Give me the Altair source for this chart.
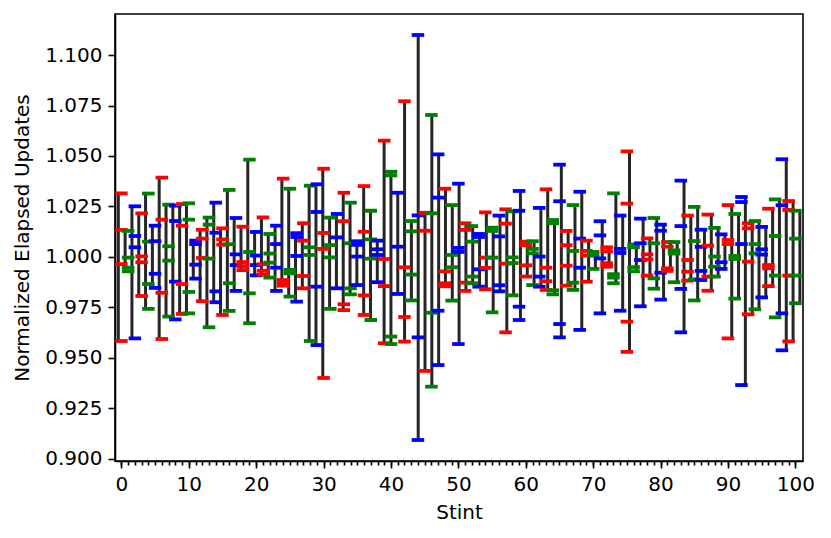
import altair as alt
import pandas as pd

# Normalized elapsed updates per stint (4 replicate readings each; some overlap so only 3 visible)
updates = [
    [1.0315, 1.0134, 0.9965, 0.9584],  # 0
    [1.0129, 0.9997, 0.9947, 0.9929],
    [1.0251, 1.0104, 1.0048, 0.9597],
    [1.0216, 1.0003, 0.9974, 0.9807],
    [1.0314, 1.0076, 0.9866, 0.9743],
    [1.0155, 1.0078, 0.9917, 0.9847],
    [1.0393, 1.0185, 0.9823, 0.9594],
    [1.0259, 1.0053, 0.9982, 0.9705],
    [1.0254, 1.0178, 0.9878, 0.9691],
    [1.0262, 1.0155, 0.9866, 0.9718],
    [1.0266, 1.0185, 0.9827, 0.9721],  # 10
    [1.0081, 1.0064, 0.9962, 0.9893],
    [1.0135, 1.0091, 0.9995, 0.9781],
    [1.0195, 1.0160, 0.9992, 0.9652],
    [1.0269, 1.0120, 0.9830, 0.9776],
    [1.0142, 1.0087, 1.0061, 0.9713],
    [1.0332, 1.0063, 0.9870, 0.9733],
    [1.0193, 1.0013, 0.9960, 0.9832],
    [1.0150, 0.9975, 0.9955, 0.9935],
    [1.0482, 1.0025, 0.9820, 0.9672],
    [1.0124, 1.0007, 0.9960, 0.9909],  # 20
    [1.0196, 0.9964, 0.9932, 0.9913],
    [1.0114, 1.0017, 0.9972, 0.9898],
    [1.0155, 1.0064, 0.9947, 0.9832],
    [1.0388, 0.9886, 0.9871, 0.9858],
    [1.0338, 0.9936, 0.9919, 0.9804],
    [1.0118, 1.0099, 1.0005, 0.9779],
    [1.0167, 1.0081, 0.9906, 0.9845],
    [1.0353, 1.0048, 1.0010, 0.9584],
    [1.0360, 1.0223, 0.9853, 0.9564],
    [1.0437, 1.0119, 1.0040, 0.9401],  # 30
    [1.0195, 1.0059, 0.9998, 0.9743],
    [1.0213, 1.0097, 0.9845],
    [1.0318, 1.0177, 0.9766, 0.9737],
    [1.0269, 1.0068, 0.9845, 0.9815],
    [1.0078, 1.0060, 1.0002, 0.9861],
    [1.0351, 1.0125, 0.9810, 0.9713],
    [1.0229, 1.0087, 0.9992, 0.9688],
    [1.0081, 1.0038, 1.0010, 0.9875],
    [1.0576, 0.9990, 0.9856, 0.9573],
    [1.0422, 1.0404, 0.9606, 0.9569],  # 40
    [1.0318, 1.0051, 0.9817],
    [1.0771, 0.9949, 0.9703, 0.9581],
    [1.0178, 1.0127, 0.9913, 0.9785],
    [1.1099, 1.0206, 0.9602, 0.9094],
    [1.0219, 1.0130, 0.9436],
    [1.0703, 1.0216, 0.9724, 0.9358],
    [1.0508, 1.0294, 0.9734, 0.9465],
    [1.0338, 0.9929, 0.9870, 0.9855],
    [1.0257, 1.0010, 0.9949, 0.9784],
    [1.0363, 1.0045, 1.0025, 0.9569],  # 50
    [1.0167, 1.0134, 0.9873, 0.9832],
    [1.0153, 1.0076, 0.9903, 0.9870],
    [1.0114, 1.0099, 0.9939, 0.9853],
    [1.0221, 0.9997, 0.9946, 0.9840],
    [1.0145, 1.0129, 0.9997, 0.9726],
    [1.0205, 1.0102, 0.9860, 0.9830],
    [1.0236, 1.0165, 0.9967, 0.9627],
    [1.0226, 0.9998, 0.9970, 0.9810],
    [1.0327, 1.0229, 0.9754, 0.9688],
    [1.0076, 1.0059, 0.9959, 0.9903],  # 60
    [1.0078, 1.0040, 1.0018, 0.9861],
    [1.0243, 1.0002, 0.9903, 0.9853],
    [1.0335, 0.9947, 0.9880, 0.9837],
    [1.0183, 1.0167, 0.9835, 0.9815],
    [1.0457, 1.0276, 0.9668, 0.9602],
    [1.0129, 1.0058, 0.9957, 0.9858],
    [1.0257, 1.0030, 0.9873, 0.9837],
    [1.0323, 1.0091, 0.9947, 0.9639],
    [1.0081, 1.0030, 1.0007, 0.9878],
    [1.0025, 1.0008, 0.9941],  # 70
    [1.0177, 1.0107, 0.9993, 0.9721],
    [1.0048, 1.0028, 0.9969, 0.9952],
    [1.0315, 0.9915, 0.9898, 0.9870],
    [1.0205, 1.0040, 1.0020, 0.9734],
    [1.0523, 1.0264, 0.9680, 0.9530],
    [1.0062, 1.0048, 0.9950, 0.9929],
    [1.0190, 1.0068, 0.9985, 0.9756],
    [1.0092, 1.0013, 0.9988, 0.9908],
    [1.0193, 1.0068, 0.9894, 0.9843],
    [1.0160, 1.0130, 0.9922, 0.9789],  # 80
    [1.0074, 1.0051, 0.9944, 0.9931],
    [1.0074, 1.0033, 1.0017, 0.9875],
    [1.0378, 1.0153, 0.9842, 0.9627],
    [1.0205, 0.9985, 0.9927, 0.9883],
    [1.0248, 1.0079, 0.9889, 0.9785],
    [1.0135, 1.0050, 0.9931, 0.9886],
    [1.0210, 1.0056, 0.9903, 0.9833],
    [1.0144, 1.0002, 0.9952, 0.9903],
    [1.0112, 0.9974, 0.9941],
    [1.0257, 1.0084, 1.0064, 0.9597],  # 90
    [1.0213, 1.0005, 0.9990, 0.9794],
    [1.0297, 1.0272, 1.0064, 0.9366],
    [1.0167, 1.0142, 0.9977, 0.9716],
    [1.0178, 1.0064, 1.0018, 0.9741],
    [1.0149, 1.0038, 1.0012, 0.9800],
    [1.0239, 0.9960, 0.9944, 0.9856],
    [1.0285, 1.0104, 0.9908, 0.9701],
    [1.0484, 1.0256, 0.9721, 0.9538],
    [1.0277, 1.0233, 0.9908, 0.9582],
    [1.0229, 1.0091, 0.9908, 0.9771],  # 100
]

hue_names = ["r", "g", "b"]
hue_colors = ["#ff0000", "#008000", "#0000ff"]
x_major_ticks = list(range(0, 101, 10))
x_minor_ticks = list(range(0, 101))
y_ticks = [0.900, 0.925, 0.950, 0.975, 1.000, 1.025, 1.050, 1.075, 1.100]

points = []
ranges = []
for i, vals in enumerate(updates):
    for v in vals:
        points.append({"stint": i, "value": v, "hue": hue_names[i % 3]})
    ranges.append({"stint": i, "lo": min(vals), "hi": max(vals)})
points_df = pd.DataFrame(points)
ranges_df = pd.DataFrame(ranges)
minor_df = pd.DataFrame({"t": x_minor_ticks})

xdom = [-0.95, 101.13]
bar_xdom = [-0.484, 100.456]  # range bars sit on a slightly wider spacing than the markers
ydom = [0.899, 1.1203]
FONT = "DejaVu Sans"

xscale = alt.Scale(domain=xdom, nice=False, zero=False)
bar_xscale = alt.Scale(domain=bar_xdom, nice=False, zero=False)
yscale = alt.Scale(domain=ydom, nice=False, zero=False)

bars = alt.Chart(ranges_df).mark_rule(color="#262626", strokeWidth=3).encode(
    x=alt.X("stint:Q", scale=bar_xscale, axis=None),
    y=alt.Y("lo:Q", scale=yscale,
            axis=alt.Axis(values=y_ticks, format=".3f", title="Normalized Elapsed Updates",
                          tickSize=7, labelPadding=6, titlePadding=12, grid=False,
                          labelFlush=False)),
    y2="hi:Q",
)

ticks = alt.Chart(points_df).mark_tick(orient="horizontal", size=12.5, thickness=3.8, opacity=1).encode(
    x=alt.X("stint:Q", scale=xscale,
            axis=alt.Axis(values=x_major_ticks, title="Stint", orient="bottom",
                          tickSize=7, labelPadding=6, titlePadding=8, grid=False,
                          labelFlush=False)),
    y=alt.Y("value:Q", scale=yscale),
    color=alt.Color("hue:N", scale=alt.Scale(domain=hue_names, range=hue_colors), legend=None),
)

minor = alt.Chart(minor_df).mark_point(opacity=0).encode(
    x=alt.X("t:Q", scale=xscale,
            axis=alt.Axis(values=x_minor_ticks, labels=False, title=None, tickSize=4,
                          domain=False, grid=False, orient="bottom")),
)

chart = alt.layer(bars, ticks, minor).resolve_scale(x="independent").properties(
    width=688, height=447,
    autosize=alt.AutoSizeParams(type="none"),
    padding={"left": 107, "top": 6, "right": 20, "bottom": 69},
).configure_view(
    stroke="black", strokeWidth=1.6
).configure_axis(
    labelFont=FONT, titleFont=FONT, labelFontSize=20, titleFontSize=20,
    titleFontWeight="normal", labelColor="black", titleColor="black",
    domainColor="black", tickColor="black", domainWidth=1.6, tickWidth=1.6,
)

chart.save("out.html", embed_options={"renderer": "svg", "actions": False})
